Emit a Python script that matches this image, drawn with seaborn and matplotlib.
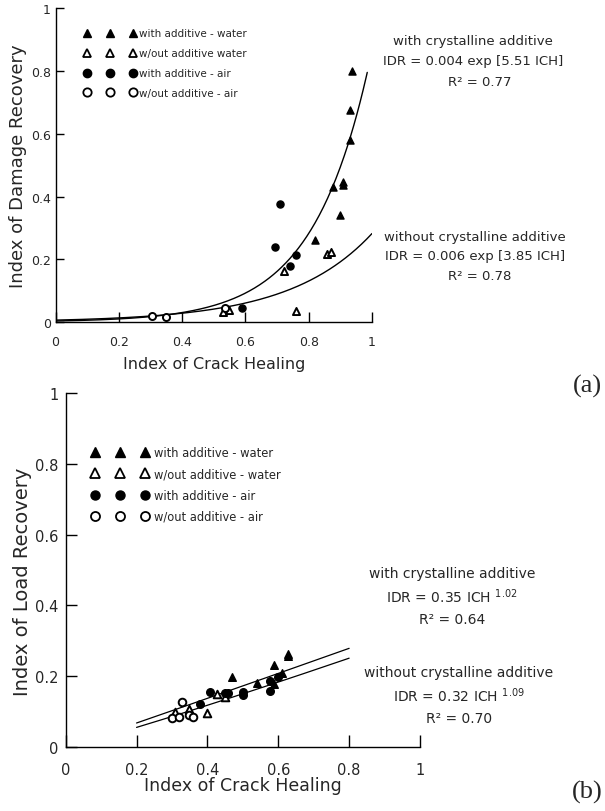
import numpy as np
import pandas as pd
import matplotlib
matplotlib.use("Agg")
import matplotlib.pyplot as plt
import seaborn as sns
from matplotlib.lines import Line2D

# ---------------- data: panel (a) ----------------
a_with_water_x = [0.937, 0.930, 0.930, 0.878, 0.909, 0.909, 0.900, 0.821]
a_with_water_y = [0.800, 0.676, 0.581, 0.430, 0.445, 0.438, 0.341, 0.262]
a_wo_water_x = [0.857, 0.870, 0.721, 0.760, 0.530, 0.549]
a_wo_water_y = [0.217, 0.222, 0.163, 0.036, 0.031, 0.039]
a_with_air_x = [0.709, 0.692, 0.760, 0.741, 0.590]
a_with_air_y = [0.375, 0.240, 0.215, 0.180, 0.045]
a_wo_air_x = [0.305, 0.349, 0.536]
a_wo_air_y = [0.020, 0.017, 0.044]
# drawn fit curves y = c * exp(k x), drawn up to x_end
a_fit_with = (0.0032, 5.6, 0.985)
a_fit_without = (0.006, 3.85, 1.0)

# ---------------- data: panel (b) ----------------
b_with_water_x = [0.628, 0.628, 0.588, 0.610, 0.468, 0.539, 0.588]
b_with_water_y = [0.262, 0.256, 0.232, 0.210, 0.198, 0.182, 0.177]
b_wo_water_x = [0.428, 0.450, 0.349, 0.400, 0.309]
b_wo_water_y = [0.149, 0.140, 0.107, 0.095, 0.100]
b_with_air_x = [0.600, 0.578, 0.578, 0.407, 0.450, 0.459, 0.500, 0.500, 0.379]
b_with_air_y = [0.198, 0.187, 0.159, 0.156, 0.152, 0.152, 0.154, 0.146, 0.121]
b_wo_air_x = [0.329, 0.299, 0.320, 0.349, 0.358]
b_wo_air_y = [0.126, 0.082, 0.086, 0.090, 0.086]
# power-law fits y = c * x^p on [x0, x1]
b_fit_with = (0.35, 1.02, 0.2, 0.8)
b_fit_without = (0.32, 1.09, 0.2, 0.8)

ticks = [0, 0.2, 0.4, 0.6, 0.8, 1.0]
tick_labels = ["0", "0.2", "0.4", "0.6", "0.8", "1"]
legend_a = ["with additive - water", "w/out additive water",
            "with additive - air", "w/out additive - air"]
legend_b = ["with additive - water", "w/out additive - water",
            "with additive - air", "w/out additive - air"]

# ---------------- figure ----------------
W, H = 605, 812
sns.set_theme(style="white")
plt.rcParams["font.family"] = ["DejaVu Sans"]
plt.rcParams["mathtext.fontset"] = "dejavusans"
fig = plt.figure(figsize=(W / 100, H / 100), dpi=100)


def axes_px(l, t, r, b):
    return fig.add_axes([l / W, 1 - b / H, (r - l) / W, (b - t) / H])


axA = axes_px(55.5, 9.3, 372, 323)
axB = axes_px(65.7, 394, 420, 748)

styles = [("^", "black"), ("^", "white"), ("o", "black"), ("o", "white")]


def draw_points(ax, groups, s_tri, s_cir):
    for (xs, ys), (m, fc) in zip(groups, styles):
        s = s_tri if m == "^" else s_cir
        lw = 1.0 if fc == "black" else 1.4
        sns.scatterplot(x=xs, y=ys, ax=ax, marker=m, s=s, color=fc,
                        edgecolor="black", linewidth=lw, zorder=3, legend=False)


def draw_exp(ax, c, k, x1):
    g = np.linspace(0, x1, 300)
    df = pd.DataFrame({"x": g, "y": c * np.exp(k * g)})
    sns.lineplot(data=df, x="x", y="y", ax=ax, color="black", lw=1.0,
                 estimator=None, sort=False)


def draw_pow(ax, c, p, x0, x1):
    g = np.linspace(x0, x1, 200)
    df = pd.DataFrame({"x": g, "y": c * g ** p})
    sns.lineplot(data=df, x="x", y="y", ax=ax, color="black", lw=0.9,
                 estimator=None, sort=False)


def style_axes(ax, tsize, xpad, ypad, xlen, ylen):
    ax.set_xlim(0, 1)
    ax.set_ylim(0, 1)
    ax.set_xticks(ticks)
    ax.set_xticklabels(tick_labels)
    ax.set_yticks(ticks)
    ax.set_yticklabels(tick_labels)
    sns.despine(ax=ax)
    for sp in ("left", "bottom"):
        ax.spines[sp].set_color("black")
        ax.spines[sp].set_linewidth(1.0)
    ax.tick_params(axis="x", direction="in", length=xlen, width=1, color="black",
                   pad=xpad, labelsize=tsize, bottom=True)
    ax.tick_params(axis="y", direction="in", length=ylen, width=1, color="black",
                   pad=ypad, labelsize=tsize, left=True)
    ax.set_xlabel("")
    ax.set_ylabel("")


def legend(ax, labels, fs, ms, hl, htp, ls, anchor):
    handles = [Line2D([], [], ls="none", marker=m, mfc=fc, mec="black",
                      mew=1.0 if fc == "black" else 1.3, ms=ms)
               for (m, fc) in styles]
    ax.legend(handles, labels, numpoints=3, handlelength=hl, handletextpad=htp,
              labelspacing=ls, loc="upper left", bbox_to_anchor=anchor,
              borderpad=0, borderaxespad=0, frameon=False, fontsize=fs)


# ---------------- panel (a) ----------------
draw_exp(axA, *a_fit_with)
draw_exp(axA, *a_fit_without)
draw_points(axA, [(a_with_water_x, a_with_water_y), (a_wo_water_x, a_wo_water_y),
                  (a_with_air_x, a_with_air_y), (a_wo_air_x, a_wo_air_y)], 26, 26)
style_axes(axA, 9, 9.5, 3.5, 7, 5.5)
axA.set_ylabel("Index of Damage Recovery", fontsize=13, va="center")
axA.yaxis.set_label_coords(-0.118, 0.5)
axA.set_xlabel("Index of Crack Healing", fontsize=11.5)
axA.xaxis.label.set_va("center")
axA.xaxis.set_label_coords(0.5, (323 - 364) / 313.7)
legend(axA, legend_a, 7.5, 6, 5.0, 0.3, 0.95, (0.09, 0.936))

tA = 9.5
fig.text(473 / W, 1 - 42 / H, "with crystalline additive", ha="center", va="center", fontsize=tA)
fig.text(473 / W, 1 - 62 / H, "IDR = 0.004 exp [5.51 ICH]", ha="center", va="center", fontsize=tA)
fig.text(480 / W, 1 - 82 / H, "R² = 0.77", ha="center", va="center", fontsize=tA)
fig.text(475 / W, 1 - 237 / H, "without crystalline additive", ha="center", va="center", fontsize=tA)
fig.text(475 / W, 1 - 257 / H, "IDR = 0.006 exp [3.85 ICH]", ha="center", va="center", fontsize=tA)
fig.text(480 / W, 1 - 277 / H, "R² = 0.78", ha="center", va="center", fontsize=tA)
fig.text(587 / W, 1 - 386 / H, "(a)", ha="center", va="center", fontsize=19,
         family="Liberation Serif")

# ---------------- panel (b) ----------------
draw_pow(axB, *b_fit_with)
draw_pow(axB, *b_fit_without)
draw_points(axB, [(b_with_water_x, b_with_water_y), (b_wo_water_x, b_wo_water_y),
                  (b_with_air_x, b_with_air_y), (b_wo_air_x, b_wo_air_y)], 30, 30)
style_axes(axB, 10.5, 11, 5, 8.5, 8)
axB.set_ylabel("Index of Load Recovery", fontsize=14, va="center")
axB.yaxis.set_label_coords(-0.123, (748 - 582) / 354)
axB.set_xlabel("Index of Crack Healing", fontsize=12.5)
axB.xaxis.label.set_va("center")
axB.xaxis.set_label_coords(0.5, (748 - 786) / 355)
legend(axB, legend_b, 8.3, 6.5, 4.95, 0.48, 0.72, (0.0728, 0.85))

tB = 10
fig.text(452 / W, 1 - 574 / H, "with crystalline additive", ha="center", va="center", fontsize=tB)
fig.text(452 / W, 1 - 597 / H, r"IDR = 0.35 ICH $^{1.02}$", ha="center", va="center", fontsize=tB)
fig.text(452 / W, 1 - 620 / H, "R² = 0.64", ha="center", va="center", fontsize=tB)
fig.text(459 / W, 1 - 673 / H, "without crystalline additive", ha="center", va="center", fontsize=tB)
fig.text(459 / W, 1 - 696 / H, r"IDR = 0.32 ICH $^{1.09}$", ha="center", va="center", fontsize=tB)
fig.text(459 / W, 1 - 719 / H, "R² = 0.70", ha="center", va="center", fontsize=tB)
fig.text(587 / W, 1 - 792 / H, "(b)", ha="center", va="center", fontsize=19,
         family="Liberation Serif")

fig.savefig("out.png", dpi=100)
